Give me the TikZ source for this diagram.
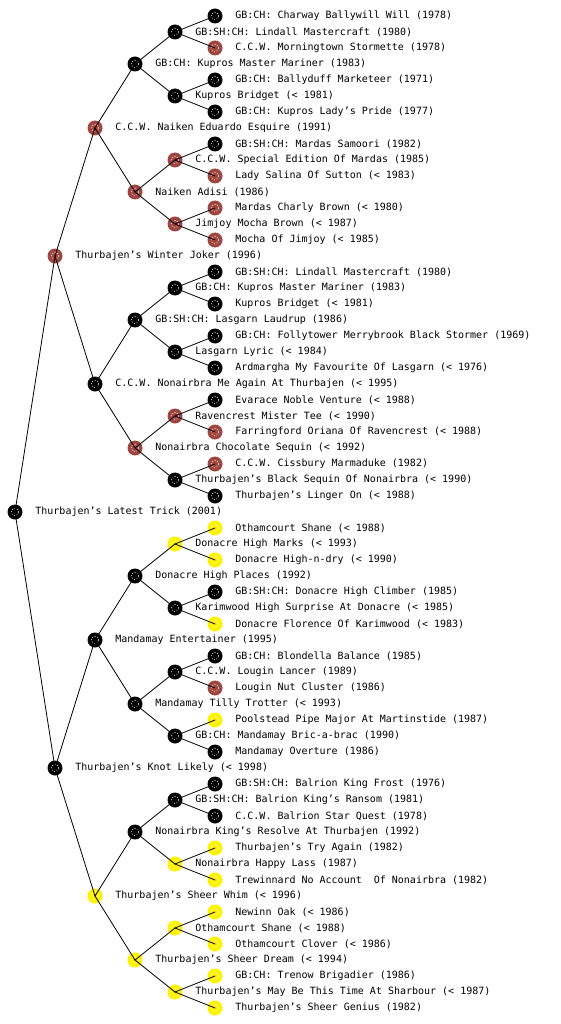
\documentclass[tikz,border=0pt]{standalone}
\usepackage{fontspec}
\newfontfamily\pedfont{DejaVu Sans Mono}
\definecolor{ccwbrown}{RGB}{160,70,64}
\tikzset{
  dog/.style={circle,minimum size=15pt,inner sep=0pt,
    path picture={\draw[white,line width=0.6pt,dotted] (path picture bounding box.center) circle (3.6pt);}},
  blk/.style={dog,fill=black},
  brn/.style={dog,fill=ccwbrown},
  ylw/.style={dog,fill=yellow},
  every label/.style={font=\pedfont\fontsize{10}{12}\selectfont,inner sep=0pt,xshift=12.5pt}
}
\begin{document}
\begin{tikzpicture}[x=1pt,y=-1pt,line cap=round,line join=round]
  \useasboundingbox (0,0) rectangle (560,1024);
  % sire line
  \node[blk,label=east:{GB:CH: Charway Ballywill Will (1978)}] (r1) at (215,16) {};
  \node[blk,label=east:{GB:SH:CH: Lindall Mastercraft (1980)}] (r2) at (175,32) {};
  \node[brn,label=east:{C.C.W. Morningtown Stormette (1978)}] (r3) at (215,48) {};
  \node[blk,label=east:{GB:CH: Kupros Master Mariner (1983)}] (r4) at (135,64) {};
  \node[blk,label=east:{GB:CH: Ballyduff Marketeer (1971)}] (r5) at (215,80) {};
  \node[blk,label=east:{Kupros Bridget (< 1981)}] (r6) at (175,96) {};
  \node[blk,label=east:{GB:CH: Kupros Lady’s Pride (1977)}] (r7) at (215,112) {};
  \node[brn,label=east:{C.C.W. Naiken Eduardo Esquire (1991)}] (r8) at (95,128) {};
  \node[blk,label=east:{GB:SH:CH: Mardas Samoori (1982)}] (r9) at (215,144) {};
  \node[brn,label=east:{C.C.W. Special Edition Of Mardas (1985)}] (r10) at (175,160) {};
  \node[brn,label=east:{Lady Salina Of Sutton (< 1983)}] (r11) at (215,176) {};
  \node[brn,label=east:{Naiken Adisi (1986)}] (r12) at (135,192) {};
  \node[brn,label=east:{Mardas Charly Brown (< 1980)}] (r13) at (215,208) {};
  \node[brn,label=east:{Jimjoy Mocha Brown (< 1987)}] (r14) at (175,224) {};
  \node[brn,label=east:{Mocha Of Jimjoy (< 1985)}] (r15) at (215,240) {};
  \node[brn,label=east:{Thurbajen’s Winter Joker (1996)}] (r16) at (55,256) {};
  \node[blk,label=east:{GB:SH:CH: Lindall Mastercraft (1980)}] (r17) at (215,272) {};
  \node[blk,label=east:{GB:CH: Kupros Master Mariner (1983)}] (r18) at (175,288) {};
  \node[blk,label=east:{Kupros Bridget (< 1981)}] (r19) at (215,304) {};
  \node[blk,label=east:{GB:SH:CH: Lasgarn Laudrup (1986)}] (r20) at (135,320) {};
  \node[blk,label=east:{GB:CH: Follytower Merrybrook Black Stormer (1969)}] (r21) at (215,336) {};
  \node[blk,label=east:{Lasgarn Lyric (< 1984)}] (r22) at (175,352) {};
  \node[blk,label=east:{Ardmargha My Favourite Of Lasgarn (< 1976)}] (r23) at (215,368) {};
  \node[blk,label=east:{C.C.W. Nonairbra Me Again At Thurbajen (< 1995)}] (r24) at (95,384) {};
  \node[blk,label=east:{Evarace Noble Venture (< 1988)}] (r25) at (215,400) {};
  \node[brn,label=east:{Ravencrest Mister Tee (< 1990)}] (r26) at (175,416) {};
  \node[brn,label=east:{Farringford Oriana Of Ravencrest (< 1988)}] (r27) at (215,432) {};
  \node[brn,label=east:{Nonairbra Chocolate Sequin (< 1992)}] (r28) at (135,448) {};
  \node[brn,label=east:{C.C.W. Cissbury Marmaduke (1982)}] (r29) at (215,464) {};
  \node[blk,label=east:{Thurbajen’s Black Sequin Of Nonairbra (< 1990)}] (r30) at (175,480) {};
  \node[blk,label=east:{Thurbajen’s Linger On (< 1988)}] (r31) at (215,496) {};
  % the dog itself
  \node[blk,label=east:{Thurbajen’s Latest Trick (2001)}] (r32) at (15,512) {};
  % dam line
  \node[ylw,label=east:{Othamcourt Shane (< 1988)}] (r33) at (215,528) {};
  \node[ylw,label=east:{Donacre High Marks (< 1993)}] (r34) at (175,544) {};
  \node[ylw,label=east:{Donacre High-n-dry (< 1990)}] (r35) at (215,560) {};
  \node[blk,label=east:{Donacre High Places (1992)}] (r36) at (135,576) {};
  \node[blk,label=east:{GB:SH:CH: Donacre High Climber (1985)}] (r37) at (215,592) {};
  \node[blk,label=east:{Karimwood High Surprise At Donacre (< 1985)}] (r38) at (175,608) {};
  \node[ylw,label=east:{Donacre Florence Of Karimwood (< 1983)}] (r39) at (215,624) {};
  \node[blk,label=east:{Mandamay Entertainer (1995)}] (r40) at (95,640) {};
  \node[blk,label=east:{GB:CH: Blondella Balance (1985)}] (r41) at (215,656) {};
  \node[blk,label=east:{C.C.W. Lougin Lancer (1989)}] (r42) at (175,672) {};
  \node[brn,label=east:{Lougin Nut Cluster (1986)}] (r43) at (215,688) {};
  \node[blk,label=east:{Mandamay Tilly Trotter (< 1993)}] (r44) at (135,704) {};
  \node[ylw,label=east:{Poolstead Pipe Major At Martinstide (1987)}] (r45) at (215,720) {};
  \node[blk,label=east:{GB:CH: Mandamay Bric-a-brac (1990)}] (r46) at (175,736) {};
  \node[blk,label=east:{Mandamay Overture (1986)}] (r47) at (215,752) {};
  \node[blk,label=east:{Thurbajen’s Knot Likely (< 1998)}] (r48) at (55,768) {};
  \node[blk,label=east:{GB:SH:CH: Balrion King Frost (1976)}] (r49) at (215,784) {};
  \node[blk,label=east:{GB:SH:CH: Balrion King’s Ransom (1981)}] (r50) at (175,800) {};
  \node[blk,label=east:{C.C.W. Balrion Star Quest (1978)}] (r51) at (215,816) {};
  \node[blk,label=east:{Nonairbra King’s Resolve At Thurbajen (1992)}] (r52) at (135,832) {};
  \node[ylw,label=east:{Thurbajen’s Try Again (1982)}] (r53) at (215,848) {};
  \node[ylw,label=east:{Nonairbra Happy Lass (1987)}] (r54) at (175,864) {};
  \node[ylw,label=east:{Trewinnard No Account~ Of Nonairbra (1982)}] (r55) at (215,880) {};
  \node[ylw,label=east:{Thurbajen’s Sheer Whim (< 1996)}] (r56) at (95,896) {};
  \node[ylw,label=east:{Newinn Oak (< 1986)}] (r57) at (215,912) {};
  \node[ylw,label=east:{Othamcourt Shane (< 1988)}] (r58) at (175,928) {};
  \node[ylw,label=east:{Othamcourt Clover (< 1986)}] (r59) at (215,944) {};
  \node[ylw,label=east:{Thurbajen’s Sheer Dream (< 1994)}] (r60) at (135,960) {};
  \node[ylw,label=east:{GB:CH: Trenow Brigadier (1986)}] (r61) at (215,976) {};
  \node[ylw,label=east:{Thurbajen’s May Be This Time At Sharbour (< 1987)}] (r62) at (175,992) {};
  \node[ylw,label=east:{Thurbajen’s Sheer Genius (1982)}] (r63) at (215,1008) {};
  % parent to sire and dam
  \foreach \r/\h in {32/16,16/8,48/8,8/4,24/4,40/4,56/4,
      4/2,12/2,20/2,28/2,36/2,44/2,52/2,60/2,
      2/1,6/1,10/1,14/1,18/1,22/1,26/1,30/1,34/1,38/1,42/1,46/1,50/1,54/1,58/1,62/1}{
    \pgfmathtruncatemacro{\up}{\r-\h}
    \pgfmathtruncatemacro{\dn}{\r+\h}
    \draw[line width=0.8pt] (r\r.center) -- (r\up.center);
    \draw[line width=0.8pt] (r\r.center) -- (r\dn.center);
  }
\end{tikzpicture}
\end{document}
